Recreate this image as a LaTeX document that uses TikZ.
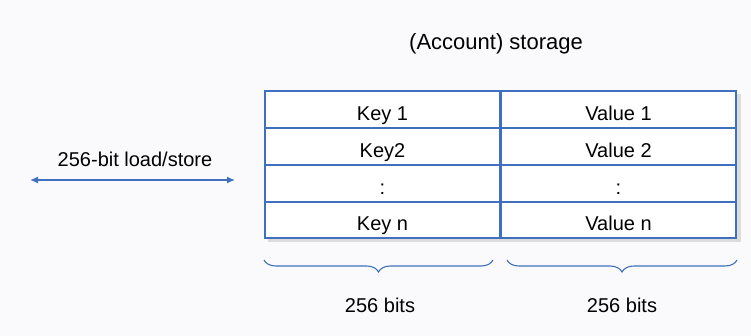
\documentclass[tikz,border=0pt]{standalone}
\usepackage{fontspec}
\setmainfont{Liberation Sans}
\usetikzlibrary{arrows.meta,decorations.pathreplacing,shadows,fit}
\definecolor{lineblue}{RGB}{62,112,190}
\definecolor{bg}{RGB}{250,250,253}
\tikzset{
  cell/.style={draw=lineblue, line width=1.4pt, minimum width=235pt, minimum height=37pt, inner sep=0pt, font=\fontsize{20}{24}\selectfont, fill=white, text height=22pt, text depth=0.6pt},
  lbl/.style={font=\fontsize{20}{24}\selectfont, inner sep=0pt, text height=14pt, text depth=4pt},
  brc/.style={draw=lineblue, line width=1.1pt, decorate, decoration={brace, mirror, amplitude=12pt}},
}
\begin{document}
\begin{tikzpicture}[x=1pt,y=-1pt]
\fill[bg] (0,0) rectangle (751,336);
\useasboundingbox (0,0) rectangle (751,336);
\node[lbl, font=\fontsize{22}{26}\selectfont] (title) at (496,45) {(Account) storage};
% shadow box
\fill[black!25, opacity=0.5] (268,94) rectangle (741,242);
\node[cell] (k1) at (382.5,109.5) {Key 1};
\node[cell] (v1) at (618.5,109.5) {Value 1};
\node[cell] (k2) at (382.5,146.5) {Key2};
\node[cell] (v2) at (618.5,146.5) {Value 2};
\node[cell] (k3) at (382.5,183.5) {:};
\node[cell] (v3) at (618.5,183.5) {:};
\node[cell, minimum height=36pt] (kn) at (382.5,220) {Key n};
\node[cell, minimum height=36pt] (vn) at (618.5,220) {Value n};
\node[lbl] (ls) at (135,162) {256-bit load/store};
\coordinate (la) at (30,180);
\coordinate (ra) at (235,180);
\draw[lineblue, line width=1.4pt, {Latex[length=8pt,width=7pt]}-{Latex[length=8pt,width=7pt]}] (la) -- (ra);
\coordinate (b1s) at (264,260);
\coordinate (b1e) at (493,260);
\coordinate (b2s) at (507,260);
\coordinate (b2e) at (737,260);
\draw[brc] (b1s) -- (b1e);
\draw[brc] (b2s) -- (b2e);
\node[lbl] (w1) at (380,307) {256 bits};
\node[lbl] (w2) at (622,307) {256 bits};
\end{tikzpicture}
\end{document}
